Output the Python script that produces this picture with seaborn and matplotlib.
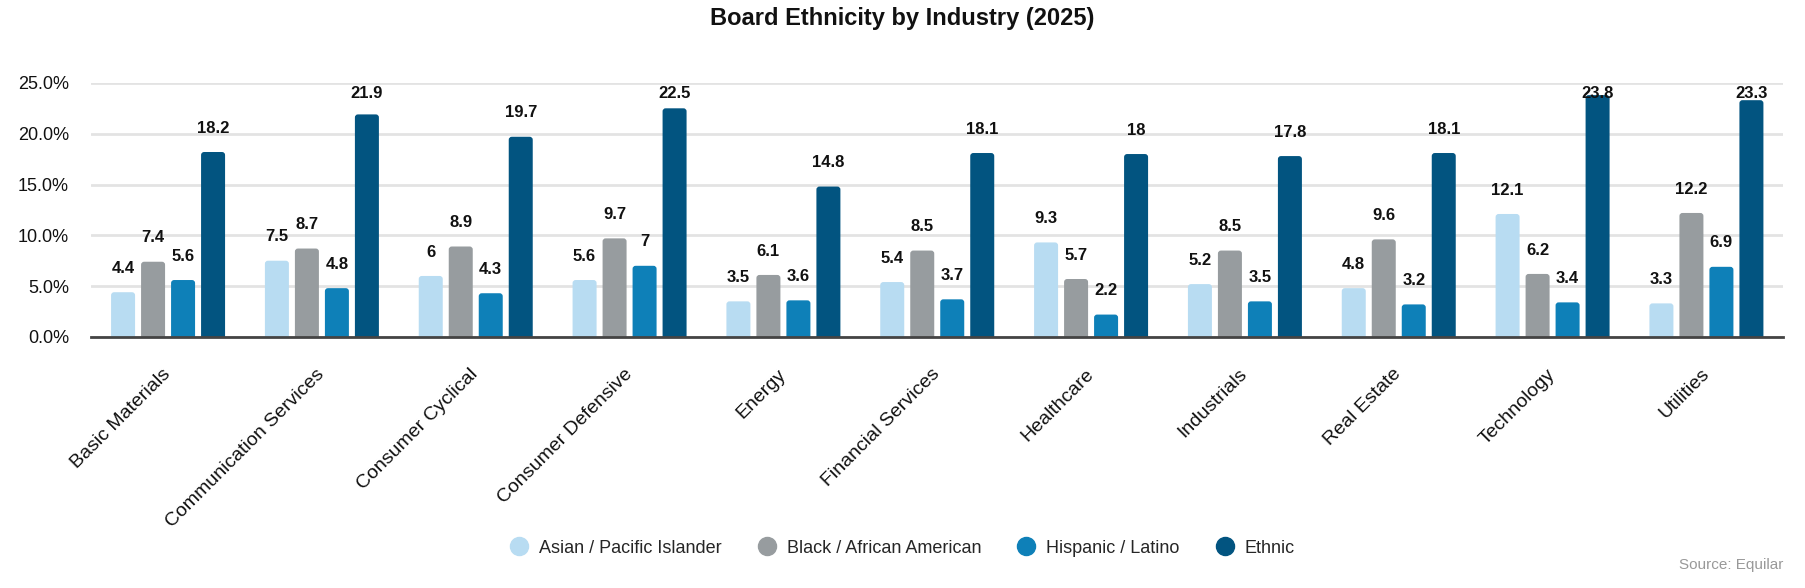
import matplotlib
matplotlib.use("Agg")
import matplotlib.pyplot as plt
from matplotlib.lines import Line2D
from matplotlib.patches import FancyBboxPatch
import seaborn as sns
import pandas as pd
import numpy as np

categories = ["Basic Materials", "Communication Services", "Consumer Cyclical",
              "Consumer Defensive", "Energy", "Financial Services", "Healthcare",
              "Industrials", "Real Estate", "Technology", "Utilities"]
asian = [4.4, 7.5, 6, 5.6, 3.5, 5.4, 9.3, 5.2, 4.8, 12.1, 3.3]
black = [7.4, 8.7, 8.9, 9.7, 6.1, 8.5, 5.7, 8.5, 9.6, 6.2, 12.2]
hispanic = [5.6, 4.8, 4.3, 7, 3.6, 3.7, 2.2, 3.5, 3.2, 3.4, 6.9]
ethnic = [18.2, 21.9, 19.7, 22.5, 14.8, 18.1, 18, 17.8, 18.1, 23.8, 23.3]
series_names = ["Asian / Pacific Islander", "Black / African American",
                "Hispanic / Latino", "Ethnic"]
colors = ["#b8dcf2", "#979c9f", "#0e80b8", "#025480"]
yticks = [0, 5, 10, 15, 20, 25]

sns.set_theme(style="white")
plt.rcParams["font.family"] = ["Liberation Sans", "DejaVu Sans"]

rows = []
for name, vals in zip(series_names, [asian, black, hispanic, ethnic]):
    for c, v in zip(categories, vals):
        rows.append({"Industry": c, "Series": name, "Value": v})
df = pd.DataFrame(rows)

fig = plt.figure(figsize=(18.05, 5.88), dpi=100)
ax = fig.add_axes([0.0505, 0.427, 0.9375, 0.432])

sns.barplot(data=df, x="Industry", y="Value", hue="Series", order=categories,
            hue_order=series_names, palette=colors, width=0.78, gap=0.2,
            ax=ax, legend=False, saturation=1, errorbar=None)

ax.set_ylim(0, 25)
ax.set_xlim(-0.5, len(categories) - 0.5)

# rounded bar tops: replace each bar by a rounded patch of the same extent
r_x = 0.02
aspect = (3.0 / 10.14) / r_x
for cont in ax.containers:
    for bar in cont:
        x0, w, h = bar.get_x(), bar.get_width(), bar.get_height()
        fc = bar.get_facecolor()
        bar.set_visible(False)
        p = FancyBboxPatch((x0, -1.0), w, h + 1.0,
                           boxstyle=f"round,pad=0,rounding_size={r_x}",
                           mutation_aspect=aspect, facecolor=fc,
                           edgecolor="none", zorder=2)
        ax.add_patch(p)
        p.set_clip_path(ax.patch)

ax.set_yticks(yticks)
ax.set_yticklabels([f"{t:.1f}%" for t in yticks], fontsize=13, color="#111111")
ax.yaxis.grid(True, color="#e3e3e3", linewidth=2)
ax.set_axisbelow(True)
for s in ["left", "right", "top"]:
    ax.spines[s].set_visible(False)
ax.spines["bottom"].set_color("#444444")
ax.spines["bottom"].set_linewidth(2)
ax.spines["bottom"].set_zorder(5)
ax.tick_params(axis="y", length=0, pad=16)
ax.tick_params(axis="x", length=0, pad=25)
ax.set_xlabel("")
ax.set_ylabel("")
for lbl in ax.get_xticklabels():
    lbl.set_rotation(45)
    lbl.set_ha("right")
    lbl.set_va("center")
    lbl.set_rotation_mode("anchor")
    lbl.set_fontsize(14)
    lbl.set_color("#111111")

# value labels
for cont in ax.containers:
    for bar in cont:
        v = bar.get_height()
        x = bar.get_x() + bar.get_width() / 2
        y = min(v + 2.35, 23.95)
        ax.text(x, y, f"{v:g}", ha="center", va="center", fontsize=12,
                fontweight="bold", color="#111111", zorder=6)

fig.text(0.5, 0.968, "Board Ethnicity by Industry (2025)", ha="center",
         va="center", fontsize=17, fontweight="bold", color="#111111")

handles = [Line2D([0], [0], marker="o", linestyle="none", markersize=13,
                  markerfacecolor=c, markeredgecolor=c) for c in colors]
fig.legend(handles, series_names, loc="center", bbox_to_anchor=(0.5, 0.068),
           ncol=4, frameon=False, fontsize=13, handlelength=1.0,
           handletextpad=0.6, columnspacing=2.0)

fig.text(0.988, 0.039, "Source: Equilar", ha="right", va="center",
         fontsize=11, color="#999999")

fig.savefig("out.png", dpi=100)
